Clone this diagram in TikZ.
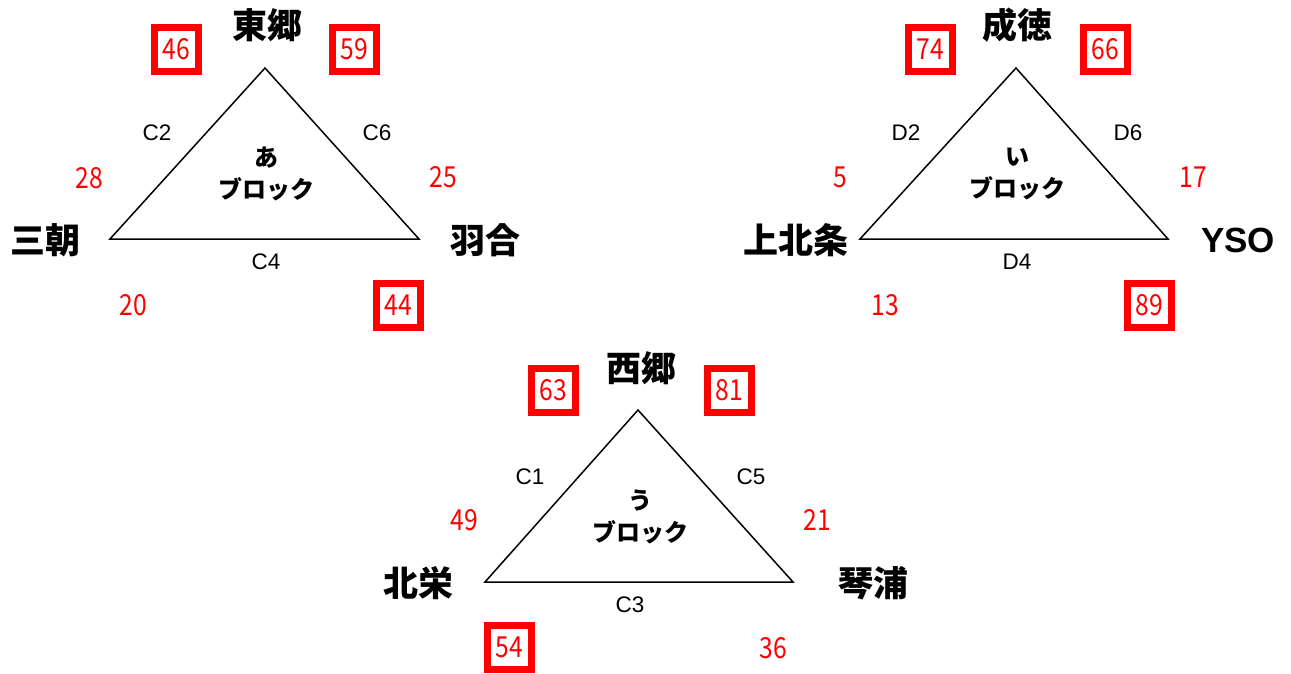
\documentclass[tikz,border=0pt]{standalone}
\usepackage{fontspec}
\newfontfamily\jp{Noto Sans CJK JP}
\newfontfamily\jpn{Noto Sans CJK JP}[FakeStretch=0.85]
\newfontfamily\ar{Liberation Sans}
\begin{document}
\begin{tikzpicture}[x=1pt,y=-1pt,
  place/.style={font=\jp\bfseries\fontsize{35}{35}\selectfont, inner sep=0pt},
  latinplace/.style={font=\ar\bfseries\fontsize{35}{35}\selectfont, inner sep=0pt},
  blk/.style={font=\jp\bfseries\fontsize{24}{32}\selectfont, align=center, inner sep=0pt},
  edgelab/.style={font=\ar\fontsize{22.5}{22.5}\selectfont, inner sep=0pt},
  num/.style={font=\jpn\fontsize{29}{29}\selectfont, text=red, inner sep=0pt},
  boxed/.style={num, draw=red, line width=7pt, minimum size=44pt},
  tri/.style={draw=black, line width=1.5pt, line join=miter}]
\useasboundingbox (0,0) rectangle (1291,673);
% ---------- Block A ----------
\coordinate (a1) at (265,68);
\coordinate (a2) at (110,239);
\coordinate (a3) at (419,239);
\draw[tri] (a1) -- (a2) -- (a3) -- cycle;
\node[place] (tA) at (267,25) {東郷};
\node[place] (lA) at (45,240) {三朝};
\node[place] (rA) at (485,240) {羽合};
\node[edgelab] (eA1) at (157,133) {C2};
\node[edgelab] (eA2) at (377,133) {C6};
\node[edgelab] (eA3) at (266,262) {C4};
\node[blk] (bA) at (266,174) {あ\\ブロック};
\node[num] (nA1) at (89,178) {28};
\node[num] (nA2) at (443,177) {25};
\node[num] (nA3) at (133,305) {20};
\node[boxed] (xA1) at (176,49) {46};
\node[boxed] (xA2) at (354,49) {59};
\node[boxed] (xA3) at (398,305) {44};
% ---------- Block B ----------
\coordinate (b1) at (1016,68);
\coordinate (b2) at (860,239);
\coordinate (b3) at (1168,239);
\draw[tri] (b1) -- (b2) -- (b3) -- cycle;
\node[place] (tB) at (1017,25) {成徳};
\node[place] (lB) at (796,240) {上北条};
\node[latinplace] (rB) at (1238,240) {YSO};
\node[edgelab] (eB1) at (906,133) {D2};
\node[edgelab] (eB2) at (1128,133) {D6};
\node[edgelab] (eB3) at (1017,262) {D4};
\node[blk] (bB) at (1017,174) {い\\ブロック};
\node[num] (nB1) at (840,177) {5};
\node[num] (nB2) at (1193,177) {17};
\node[num] (nB3) at (885,305) {13};
\node[boxed] (xB1) at (930,49) {74};
\node[boxed] (xB2) at (1105,49) {66};
\node[boxed] (xB3) at (1149,305) {89};
% ---------- Block C ----------
\coordinate (c1) at (638,410);
\coordinate (c2) at (485,582);
\coordinate (c3) at (793,582);
\draw[tri] (c1) -- (c2) -- (c3) -- cycle;
\node[place] (tC) at (641,368) {西郷};
\node[place] (lC) at (418,583) {北栄};
\node[place] (rC) at (873,583) {琴浦};
\node[edgelab] (eC1) at (530,477) {C1};
\node[edgelab] (eC2) at (751,477) {C5};
\node[edgelab] (eC3) at (630,605) {C3};
\node[blk] (bC) at (640,517) {う\\ブロック};
\node[num] (nC1) at (464,520) {49};
\node[num] (nC2) at (817,520) {21};
\node[num] (nC3) at (773,648) {36};
\node[boxed] (xC1) at (553,390) {63};
\node[boxed] (xC2) at (729,390) {81};
\node[boxed] (xC3) at (509,647) {54};
\end{tikzpicture}
\end{document}
